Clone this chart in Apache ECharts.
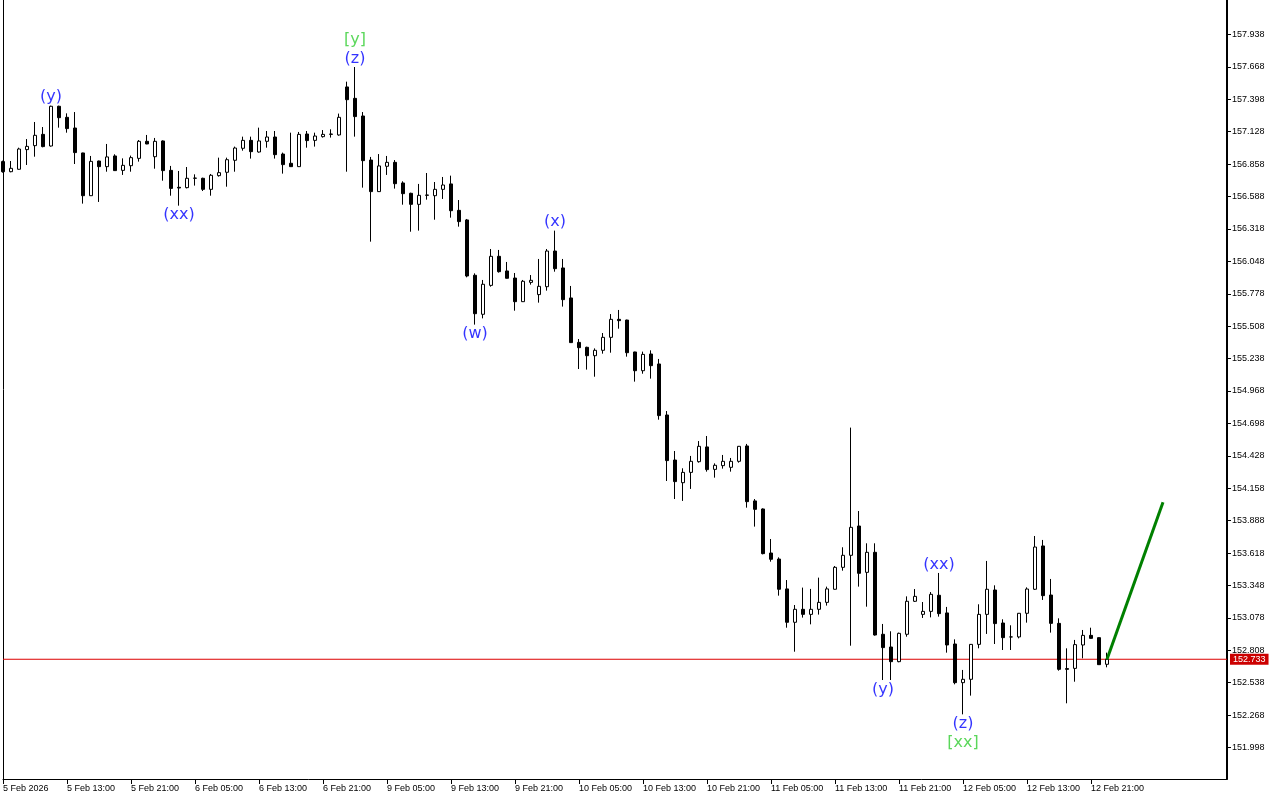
<!DOCTYPE html>
<html><head><meta charset="utf-8">
<script src="https://cdn.jsdelivr.net/npm/echarts@6/dist/echarts.min.js"></script>
<style>html,body{margin:0;padding:0;background:#fff}#c{width:1280px;height:800px}</style>
</head><body><div id="c"></div>
<script>
// ---- data (hourly candles) ----
const opens=[156.879,156.795,156.815,156.979,157.012,157.106,157.009,157.340,157.248,157.159,
156.951,156.595,156.884,156.837,156.926,156.806,156.845,156.906,157.048,156.920,
157.051,156.806,156.665,156.662,156.740,156.740,156.648,156.762,156.790,156.890,
156.990,157.056,156.959,157.048,157.084,156.942,156.865,156.837,157.109,157.056,
157.087,157.106,157.101,157.501,157.406,157.259,156.892,156.629,156.840,156.873,
156.701,156.615,156.523,156.598,156.595,156.648,156.693,156.473,156.393,155.932,
155.607,155.848,156.090,155.968,155.909,155.712,155.873,155.771,155.837,156.134,
155.993,155.743,155.373,155.332,155.262,155.307,155.415,155.565,155.559,155.293,
155.137,155.276,155.193,154.768,154.393,154.204,154.290,154.379,154.502,154.315,
154.346,154.332,154.382,154.510,154.052,153.985,153.618,153.568,153.319,153.041,
153.149,153.107,153.149,153.207,153.316,153.499,153.599,153.843,153.457,153.624,
152.941,152.835,152.713,152.941,153.216,153.107,153.132,153.266,153.119,152.860,
152.538,152.566,152.857,153.107,153.310,153.035,152.919,152.919,153.116,153.316,
153.677,153.268,153.032,152.655,152.657,152.852,152.932,152.913,152.691];
const closes=[156.795,156.823,156.984,157.006,157.098,157.004,157.340,157.245,157.154,156.954,
156.595,156.881,156.837,156.918,156.804,156.848,156.912,157.048,157.026,157.048,
156.804,156.656,156.659,156.740,156.742,156.648,156.765,156.787,156.895,156.992,
157.056,156.962,157.051,157.084,156.937,156.854,156.837,157.106,157.054,157.092,
157.106,157.109,157.248,157.395,157.254,156.887,156.629,156.843,156.873,156.695,
156.612,156.523,156.598,156.601,156.648,156.684,156.470,156.379,155.926,155.612,
155.857,156.090,155.962,155.907,155.712,155.882,155.890,155.840,156.134,155.987,
155.729,155.371,155.329,155.262,155.307,155.415,155.565,155.554,155.287,155.137,
155.273,155.179,154.763,154.388,154.213,154.290,154.382,154.507,154.313,154.349,
154.382,154.382,154.507,154.046,153.982,153.613,153.566,153.316,153.041,153.149,
153.107,153.149,153.207,153.319,153.499,153.599,153.832,153.449,153.624,152.935,
152.830,152.713,152.949,153.216,153.257,153.132,153.274,153.113,152.852,152.538,
152.566,152.857,153.107,153.316,153.030,152.913,152.919,153.116,153.318,153.668,
153.263,153.032,152.649,152.649,152.855,152.932,152.907,152.688,152.733];
const highs=[156.887,156.884,156.995,157.067,157.209,157.167,157.345,157.345,157.281,157.292,
156.953,156.926,156.887,157.026,156.940,156.906,156.929,157.059,157.101,157.076,
157.056,156.843,156.801,156.834,156.773,156.745,156.776,156.912,156.912,157.004,
157.087,157.087,157.162,157.134,157.134,156.954,157.120,157.126,157.134,157.120,
157.142,157.148,157.279,157.545,157.667,157.292,156.918,156.942,156.926,156.892,
156.715,156.620,156.693,156.784,156.709,156.751,156.762,156.559,156.401,155.948,
155.893,156.151,156.143,156.043,155.951,155.893,155.934,156.068,156.151,156.304,
156.068,155.843,155.401,155.337,155.323,155.451,155.609,155.643,155.562,155.295,
155.296,155.307,155.235,154.801,154.468,154.324,154.427,154.551,154.593,154.365,
154.435,154.410,154.510,154.527,154.068,153.990,153.735,153.582,153.393,153.185,
153.330,153.319,153.413,153.338,153.510,153.666,154.663,153.968,153.699,153.699,
153.027,152.966,152.955,153.257,153.318,153.210,153.293,153.452,153.169,152.899,
152.644,152.860,153.191,153.552,153.349,153.066,153.016,153.118,153.332,153.760,
153.727,153.402,153.074,152.824,152.894,152.977,152.996,152.915,152.788];
const lows=[156.787,156.790,156.812,156.851,156.920,156.998,157.004,157.162,157.120,156.859,
156.529,156.593,156.543,156.795,156.802,156.768,156.795,156.879,157.024,156.820,
156.720,156.595,156.512,156.656,156.679,156.634,156.595,156.754,156.670,156.795,
156.970,156.904,156.954,156.995,156.904,156.779,156.835,156.835,156.995,157.004,
157.079,157.079,157.095,156.795,157.087,156.662,156.212,156.627,156.768,156.654,
156.520,156.295,156.304,156.562,156.395,156.568,156.412,156.337,155.915,155.521,
155.573,155.837,155.954,155.905,155.637,155.710,155.854,155.704,155.804,155.962,
155.671,155.369,155.151,155.146,155.087,155.279,155.287,155.487,155.254,155.046,
155.112,155.071,154.729,154.218,154.068,154.052,154.152,154.371,154.296,154.246,
154.321,154.296,154.371,153.996,153.838,153.607,153.546,153.263,152.996,152.796,
153.080,153.024,153.105,153.180,153.314,153.471,152.846,153.338,153.171,152.930,
152.560,152.560,152.708,152.921,153.210,153.077,153.082,153.088,152.788,152.524,
152.274,152.430,152.824,152.944,152.860,152.810,152.810,152.907,153.038,153.310,
153.227,152.955,152.638,152.366,152.546,152.741,152.905,152.686,152.666];

// trading days shown: [label, first hour, last hour]
const tradingDays=[['5 Feb',5,23],['6 Feb',0,23],['9 Feb',0,23],['10 Feb',0,23],['11 Feb',0,23],['12 Feb',0,23]];
const futureSlots=15;
const firstAxisLabel='5 Feb 2026';
const labelEvery=8;

const priceTicks=[151.998,152.268,152.538,152.808,153.078,153.348,153.618,153.888,154.158,154.428,
154.698,154.968,155.238,155.508,155.778,156.048,156.318,156.588,156.858,157.128,157.398,157.668,157.938];
const priceMin=151.7354, priceMax=158.2254;
const lastPrice=152.733;

// projection line (green): [bar index, price]
const projection=[[138,152.733],[145,154.041]];

// wave labels
const waveText =['(y)','(xx)','[y]','(z)','(w)','(x)','(y)','(xx)','(z)','[xx]'];
const waveBar  =[6,22,44,44,59,69,110,117,120,120];
const waveSide =['high','low','high','high','low','high','low','high','low','low'];
const waveLevel=[0,0,1,0,0,0,0,0,0,1];

// ---- build ----
const categories=[];
tradingDays.forEach(([d,h0,h1])=>{for(let h=h0;h<=h1;h++)categories.push(d+' '+String(h).padStart(2,'0')+':00');});
const nBars=categories.length;
for(let k=0;k<futureSlots;k++)categories.push('');
const lastSlot=categories.length-1;

const candleData=opens.map((o,i)=>[o,closes[i],lows[i],highs[i]]);
const waveData=waveText.map((t,k)=>{
  const i=waveBar[k], up=waveSide[k]==='high';
  const isMajor=t.charAt(0)==='[';
  return {value:[i, up?highs[i]:lows[i]], name:t,
    label:{position:up?'top':'bottom', distance:(up?0:1)+waveLevel[k]*19, color:isMajor?'#32cd32':'#0000ff'}};
});

const tickShown=(i)=>i%labelEvery===0 && i<nBars;
const chart=echarts.init(document.getElementById('c'),null,{renderer:'canvas'});
chart.setOption({
  animation:false,
  backgroundColor:'#ffffff',
  grid:{left:2,right:53,top:0,bottom:21,containLabel:false},
  xAxis:{type:'category',data:categories,boundaryGap:false,
    axisLine:{show:true,lineStyle:{color:'#000',width:1}},
    axisTick:{show:true,interval:(i)=>tickShown(i),length:5,lineStyle:{color:'#000'}},
    axisLabel:{interval:(i)=>tickShown(i),formatter:(v,i)=>i===0?firstAxisLabel:v,align:'left',
      color:'#000',fontSize:9,fontFamily:'Liberation Sans',margin:5},
    splitLine:{show:false}},
  yAxis:[{type:'value',position:'right',min:priceMin,max:priceMax,
    axisLine:{show:true,lineStyle:{color:'#000',width:2}},
    axisTick:{show:true,customValues:priceTicks,length:4,lineStyle:{color:'#000'}},
    axisLabel:{customValues:priceTicks,formatter:(v)=>v.toFixed(3),color:'#000',fontSize:9,fontFamily:'Liberation Sans',margin:5},
    splitLine:{show:false}},
   {type:'value',position:'left',min:priceMin,max:priceMax,
    axisLine:{show:true,lineStyle:{color:'#000',width:1}},
    axisTick:{show:false},axisLabel:{show:false},splitLine:{show:false}}],
  series:[
   {type:'line',data:[[0,lastPrice],[lastSlot,lastPrice]],symbol:'none',silent:true,z:1,
    lineStyle:{color:'#dd0000',width:1},itemStyle:{color:'#dd0000'},
    endLabel:{show:true,formatter:()=>lastPrice.toFixed(3),backgroundColor:'#cc0000',color:'#ffffff',
      fontSize:9,fontFamily:'Liberation Sans',padding:[1,3,1,3],distance:3}},
   {type:'candlestick',data:candleData,barWidth:4,clip:false,silent:true,z:2,
    itemStyle:{color:'#ffffff',color0:'#000000',borderColor:'#000000',borderColor0:'#000000',borderColorDoji:'#000000',borderWidth:1}},
   {type:'line',data:projection,symbol:'none',silent:true,z:5,
    lineStyle:{color:'#008000',width:3}},
   {type:'scatter',data:waveData,symbolSize:1,silent:true,z:6,
    itemStyle:{color:'rgba(0,0,0,0)'},
    label:{show:true,formatter:(p)=>p.name,fontFamily:'DejaVu Sans',fontSize:16,lineHeight:16}}
  ]
});
</script></body></html>
